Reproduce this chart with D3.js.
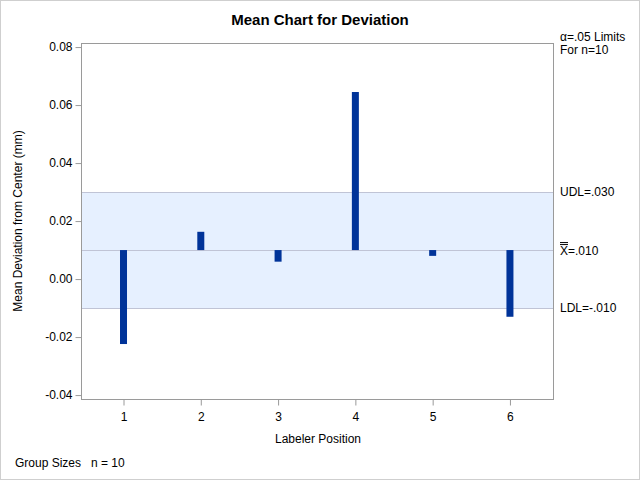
<!DOCTYPE html>
<html><head><meta charset="utf-8">
<script src="https://cdn.jsdelivr.net/npm/d3@7"></script>
<style>body{margin:0;background:#fff}svg{display:block}text{font-family:Arial,"Liberation Sans",sans-serif}</style>
</head><body><svg id="c" width="640" height="480"></svg>
<script>
const categories = [1, 2, 3, 4, 5, 6];
const means = [-0.0224, 0.0163, 0.0060, 0.0645, 0.0080, -0.0130];
const center = 0.010, udl = 0.030, ldl = -0.010;
const yTicks = [-0.04, -0.02, 0.00, 0.02, 0.04, 0.06, 0.08];
const limitLabels = ["UDL=.030", "=.010", "LDL=-.010"];

const svg = d3.select("#c");
svg.append("rect").attr("x",0.5).attr("y",0.5).attr("width",639).attr("height",479)
  .attr("fill","#fff").attr("stroke","#cfcfcf");

const L=81, R=554, T=43, B=400;
const x = d3.scaleLinear().domain([0.45, 6.57]).range([L, R]);
const y = d3.scaleLinear().domain([-0.0417, 0.0814]).range([B, T]);

// band
svg.append("rect").attr("x",L).attr("y",y(udl)).attr("width",R-L).attr("height",y(ldl)-y(udl))
  .attr("fill","#E6F0FF");
[udl, center, ldl].forEach(v=>{
  svg.append("line").attr("x1",L).attr("x2",R).attr("y1",Math.round(y(v))+0.5).attr("y2",Math.round(y(v))+0.5)
    .attr("stroke","#C0C4D6").attr("stroke-width",1);
});

// bars
svg.selectAll("rect.bar").data(categories).enter().append("rect").attr("class","bar")
  .attr("x",(d)=>x(d)-3.5).attr("width",7)
  .attr("y",(d,i)=>Math.min(y(means[i]),y(center)))
  .attr("height",(d,i)=>Math.abs(y(means[i])-y(center)))
  .attr("fill","#003399");

// frame
svg.append("rect").attr("x",L+0.5).attr("y",T+0.5).attr("width",R-L-1).attr("height",B-T-1)
  .attr("fill","none").attr("stroke","#9a9a9a");

// y axis
const fmt = d => d3.format(".2f")(d).replace("\u2212","-");
const yAx = svg.append("g").attr("transform",`translate(${L+0.5},0)`)
  .call(d3.axisLeft(y).tickValues(yTicks).tickFormat(fmt).tickSize(6).tickSizeOuter(0));
yAx.select(".domain").remove();
yAx.selectAll("line").attr("stroke","#9a9a9a");
yAx.selectAll("text").attr("font-size",12).attr("fill","#000").attr("x",-9).attr("dy","0.32em");

// x axis
const xAx = svg.append("g").attr("transform",`translate(0,${B-0.5})`)
  .call(d3.axisBottom(x).tickValues(categories).tickFormat(d3.format("d")).tickSize(6).tickSizeOuter(0));
xAx.select(".domain").remove();
xAx.selectAll("line").attr("stroke","#9a9a9a");
xAx.selectAll("text").attr("font-size",12).attr("fill","#000").attr("y",13);

// title
svg.append("text").attr("x",320).attr("y",25).attr("text-anchor","middle")
  .attr("font-size",15).attr("font-weight","bold").text("Mean Chart for Deviation");

// axis labels
svg.append("text").attr("x",318).attr("y",443).attr("text-anchor","middle").attr("font-size",12).text("Labeler Position");
svg.append("text").attr("transform","translate(22,221) rotate(-90)").attr("text-anchor","middle")
  .attr("font-size",12).text("Mean Deviation from Center (mm)");

// right labels
svg.append("text").attr("x",560).attr("y",41).attr("font-size",12).text("α=.05 Limits");
svg.append("text").attr("x",560).attr("y",54).attr("font-size",12).text("For n=10");
svg.append("text").attr("x",560).attr("y",y(udl)+4).attr("font-size",12).text(limitLabels[0]);
const xb = svg.append("text").attr("x",560).attr("y",y(center)+5).attr("font-size",12);
xb.append("tspan").text("X");
xb.append("tspan").text(limitLabels[1]);
svg.append("line").attr("x1",560).attr("x2",568).attr("y1",y(center)-7.5).attr("y2",y(center)-7.5).attr("stroke","#000");
svg.append("line").attr("x1",560).attr("x2",568).attr("y1",y(center)-5.5).attr("y2",y(center)-5.5).attr("stroke","#000");
svg.append("text").attr("x",560).attr("y",y(ldl)+4).attr("font-size",12).text(limitLabels[2]);

// footer
svg.append("text").attr("x",15).attr("y",467).attr("font-size",12).text("Group Sizes");
svg.append("text").attr("x",91).attr("y",467).attr("font-size",12).text("n = 10");
</script></body></html>
